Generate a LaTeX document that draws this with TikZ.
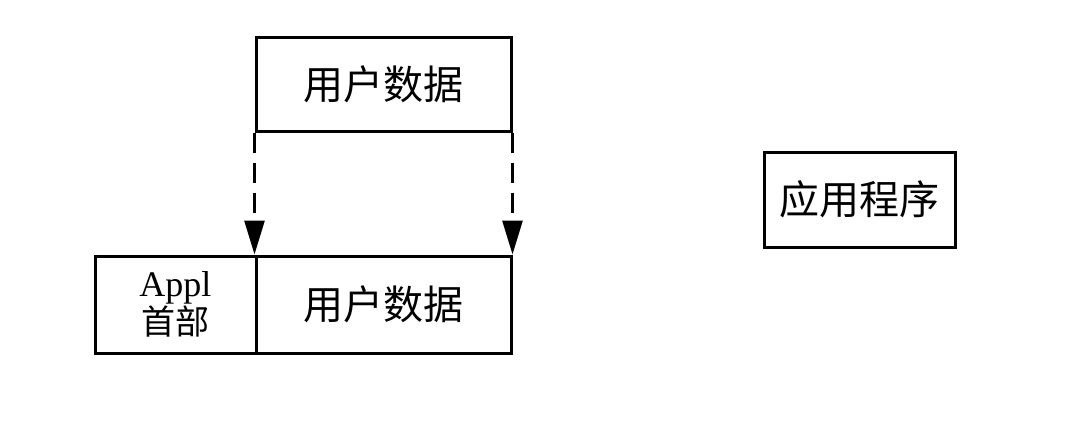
\documentclass[tikz,border=0pt]{standalone}
\usepackage{fontspec}
\setmainfont{Liberation Serif}
\newfontfamily\cjk{Noto Sans CJK SC}
\usetikzlibrary{arrows.meta}
\tikzset{
  box/.style={draw, line width=1.5pt, inner sep=0pt, minimum height=47pt,
    font=\cjk\fontsize{20}{24}\selectfont},
  dasharrow/.style={line width=1.4pt, dash pattern=on 10pt off 5pt,
    -{Triangle[length=17pt, width=10pt]}}
}
\begin{document}
\begin{tikzpicture}[x=0.5pt, y=0.5pt]
        \useasboundingbox (0,0) rectangle (1084,430);
        % nodes
        \node[box, minimum width=127.5pt] (data)  at (383.5, 346) {用户数据};
        \node[box, minimum width=80.5pt, minimum height=48.5pt, align=center,
          font=\fontsize{18}{17.5}\selectfont] (hdr) at (175.5, 125.5) {Appl\\{\cjk\fontsize{17}{17.5}\selectfont 首部}};
        \node[box, minimum width=127.5pt, minimum height=48.5pt] (msg) at (383.5, 125.5) {用户数据};
        \node[box, minimum width=95.5pt, minimum height=47.5pt] (app) at (859.5, 230.5) {应用程序};
        % arrows
        \draw[dasharrow] (data.south west) -- (msg.north west);
        \draw[dasharrow] (data.south east) -- (msg.north east);
\end{tikzpicture}
\end{document}
